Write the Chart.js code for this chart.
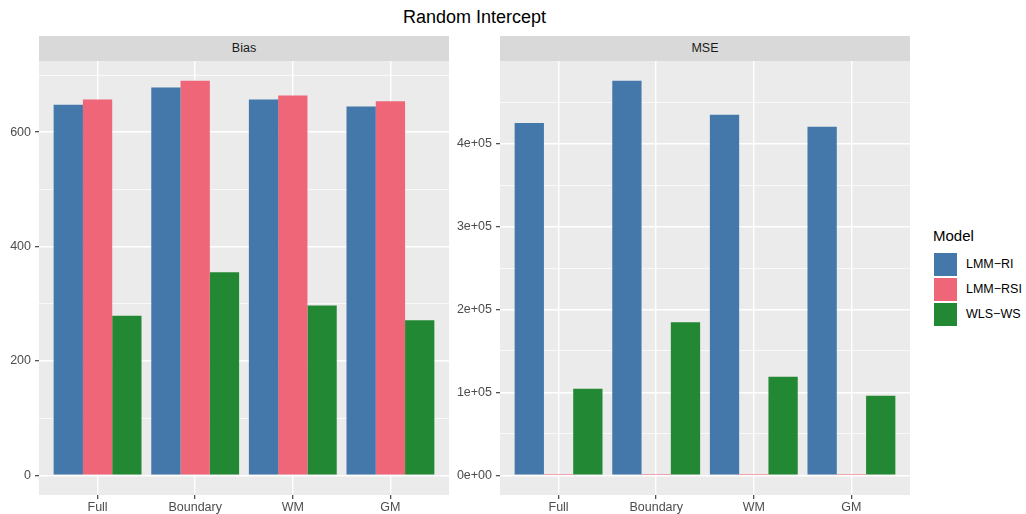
<!DOCTYPE html>
<html>
<head>
<meta charset="utf-8">
<script src="https://cdn.jsdelivr.net/npm/chart.js@4/dist/chart.umd.min.js"></script>
<style>
  html, body { margin: 0; padding: 0; background: #ffffff; }
  body { width: 1026px; height: 514px; position: relative; overflow: hidden;
         font-family: "Liberation Sans", Arial, sans-serif; }
  canvas { position: absolute; left: 0; top: 0; }
  .title { position: absolute; left: 39px; width: 871px; top: 6px; text-align: center;
           font-size: 18px; color: #000; line-height: 22px; }
  .strip { position: absolute; top: 36px; height: 25px; background: #D9D9D9;
           text-align: center; line-height: 25px; font-size: 12.5px; color: #1A1A1A; }
  .legend { position: absolute; left: 933px; top: 226px; }
  .legend .ttl { font-size: 15px; color: #000; line-height: 20px; margin-bottom: 6px; }
  .legend .row { position: relative; height: 25px; }
  .legend .key { position: absolute; left: 0.5px; top: 0.5px; width: 23px; height: 23px; }
  .legend .lab { position: absolute; left: 33px; top: 0; line-height: 24px; font-size: 12.5px; color: #000; white-space: nowrap; }
</style>
</head>
<body>
<div class="title">Random Intercept</div>
<div class="strip" id="stripBias" style="left:39px;width:410px;"></div>
<div class="strip" id="stripMse" style="left:500px;width:410px;"></div>
<div class="legend" id="legend"></div>
<canvas id="bias" width="1026" height="514"></canvas>
<canvas id="mse" width="1026" height="514"></canvas>
<script>
// Estimation settings on the x axis
const categories = ['Full', 'Boundary', 'WM', 'GM'];
// Models compared (legend order)
const models = ['LMM\u2212RI', 'LMM\u2212RSI', 'WLS\u2212WS'];
const panels = ['Bias', 'MSE'];

// Bias per model
const biasRI  = [648, 678, 657, 645];
const biasRSI = [657, 690, 664, 654];
const biasWLS = [279, 355, 297, 271];

// MSE per model
const mseRI  = [425000, 476000, 435000, 420500];
const mseRSI = [1500, 1500, 1500, 1500];
const mseWLS = [104500, 184500, 119000, 96000];

// Labelled y ticks
const biasTicks = [0, 200, 400, 600];
const biasTickLabels = ['0', '200', '400', '600'];
const mseTicks = [0, 100000, 200000, 300000, 400000];
const mseTickLabels = ['0e+00', '1e+05', '2e+05', '3e+05', '4e+05'];

const colors = ['#4477AA', '#EE6677', '#228833'];
const FONT = '"Liberation Sans", Arial, sans-serif';

document.getElementById('stripBias').textContent = panels[0];
document.getElementById('stripMse').textContent = panels[1];

// legend
const legend = document.getElementById('legend');
legend.innerHTML = '<div class="ttl">Model</div>' + models.map((m, i) =>
  '<div class="row"><div class="key" style="background:' + colors[i] + '"></div><div class="lab">' + m + '</div></div>'
).join('');

// grey panel background behind the grid
const panelBg = {
  id: 'panelBg',
  beforeDraw(chart) {
    const a = chart.chartArea, c = chart.ctx;
    c.save();
    c.fillStyle = '#EBEBEB';
    c.fillRect(a.left, a.top, a.right - a.left, a.bottom - a.top);
    c.restore();
  }
};

function makePanel(canvasId, seriesList, ticks, tickLabels, padLeft, padRight, yWidth) {
  const maxVal = Math.max(...seriesList.flat());
  const yMin = -0.05 * maxVal, yMax = 1.05 * maxVal;
  const step = ticks[1] - ticks[0];
  // minor grid positions halfway between labelled ticks
  const minor = [];
  for (let v = ticks[0] + step / 2; v < yMax; v += step) minor.push(v);

  const datasets = seriesList.map((vals, i) => ({
    label: models[i],
    data: vals.map((v, j) => ({ x: j + 1, y: v })),
    backgroundColor: colors[i],
    borderWidth: 0,
    categoryPercentage: 0.9,
    barPercentage: 1.0
  }));

  return new Chart(document.getElementById(canvasId), {
    type: 'bar',
    data: { datasets },
    options: {
      responsive: false,
      animation: false,
      events: [],
      layout: { padding: { left: padLeft, right: padRight, top: 61, bottom: 0 } },
      plugins: { legend: { display: false }, title: { display: false }, tooltip: { enabled: false } },
      scales: {
        x: {
          type: 'linear',
          min: 0.4, max: 4.6,
          offset: false,
          afterBuildTicks: s => { s.ticks = categories.map((c, i) => ({ value: i + 1 })); },
          afterFit: s => { s.height = 19; },
          ticks: {
            autoSkip: false, maxRotation: 0, padding: 1,
            color: '#4D4D4D', font: { family: FONT, size: 12.5 },
            callback: v => categories[Math.round(v) - 1] || ''
          },
          grid: { offset: false, color: '#FFFFFF', lineWidth: 1.4, tickColor: '#333333', tickLength: 4, tickWidth: 1.1 },
          border: { display: false }
        },
        y: {
          min: yMin, max: yMax,
          afterBuildTicks: s => {
            s.ticks = ticks.map(v => ({ value: v })).concat(minor.map(v => ({ value: v, minor: true })));
          },
          afterFit: s => { s.width = yWidth; },
          ticks: {
            autoSkip: false, padding: 4,
            color: '#4D4D4D', font: { family: FONT, size: 12.5 },
            callback: v => { const k = ticks.indexOf(v); return k >= 0 ? tickLabels[k] : ''; }
          },
          grid: {
            color: '#FFFFFF',
            lineWidth: ctx => (ctx.tick && ctx.tick.minor) ? 0.7 : 1.4,
            tickColor: ctx => (ctx.tick && ctx.tick.minor) ? 'rgba(0,0,0,0)' : '#333333',
            tickLength: 4, tickWidth: 1.1
          },
          border: { display: false }
        }
      }
    },
    plugins: [panelBg]
  });
}

makePanel('bias', [biasRI, biasRSI, biasWLS], biasTicks, biasTickLabels, 0, 1026 - 449, 39);
makePanel('mse', [mseRI, mseRSI, mseWLS], mseTicks, mseTickLabels, 440, 1026 - 910, 60);
</script>
</body>
</html>
